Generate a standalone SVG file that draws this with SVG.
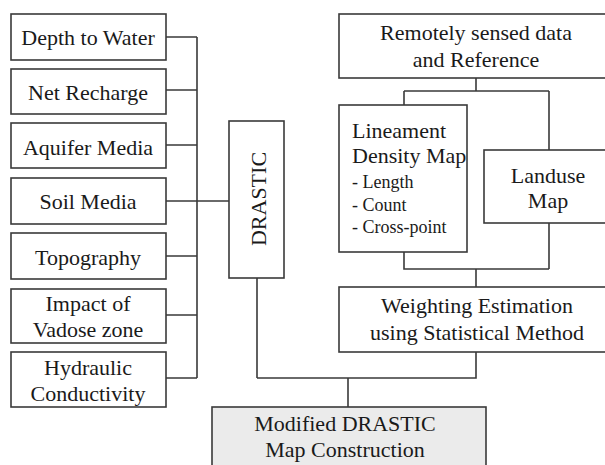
<svg xmlns="http://www.w3.org/2000/svg" width="605" height="465" viewBox="0 0 605 465">
<style>
.box{fill:#fff;stroke:#3a3a3a;stroke-width:1.6}
.gray{fill:#ebebeb}
.c{fill:none;stroke:#3a3a3a;stroke-width:1.6}
</style>
<rect width="605" height="465" fill="#fff"/>
<g id="connectors">
<path class="c" d="M166,37 H197 M166,90 H197 M166,145 H197 M166,201 H229 M166,256 H197 M166,315 H197 M166,378 H197 M197,37 V378"/>
<path class="c" d="M476,78 V91 M404,91 H549 M404,91 V105 M549,91 V150"/>
<path class="c" d="M404,252 V269 H549 M549,223 V269 M476,269 V287"/>
<path class="c" d="M476,352 V378 H257 M257,278 V378 M348,378 V407"/>
</g>
<g font-family="Liberation Serif, Times New Roman, serif" font-size="22" fill="#1a1a1a" text-anchor="middle">
<g id="n1"><rect class="box" x="11" y="14" width="155" height="46"/><text x="88" y="45">Depth to Water</text></g>
<g id="n2"><rect class="box" x="11" y="69" width="155" height="45"/><text x="88" y="100">Net Recharge</text></g>
<g id="n3"><rect class="box" x="11" y="123" width="155" height="45"/><text x="88" y="155">Aquifer Media</text></g>
<g id="n4"><rect class="box" x="11" y="178" width="155" height="46"/><text x="88" y="209">Soil Media</text></g>
<g id="n5"><rect class="box" x="11" y="233" width="155" height="46"/><text x="88" y="265">Topography</text></g>
<g id="n6"><rect class="box" x="11" y="289" width="155" height="54"/><text x="88" y="311">Impact of</text><text x="88" y="337">Vadose zone</text></g>
<g id="n7"><rect class="box" x="11" y="352" width="155" height="55"/><text x="88" y="375">Hydraulic</text><text x="88" y="401">Conductivity</text></g>
<g id="drastic"><rect class="box" x="229" y="121" width="55" height="157"/><text transform="translate(266,199) rotate(-90)">DRASTIC</text></g>
<g id="remote"><rect class="box" x="339" y="14" width="275" height="64"/><text x="476" y="40">Remotely sensed data</text><text x="476" y="67">and Reference</text></g>
<g id="lineament" text-anchor="start"><rect class="box" x="339" y="105" width="128" height="147"/><text x="352" y="138">Lineament</text><text x="352" y="163">Density Map</text><text x="352" y="188" font-size="18">- Length</text><text x="352" y="211" font-size="18">- Count</text><text x="352" y="233" font-size="18">- Cross-point</text></g>
<g id="landuse"><rect class="box" x="484" y="150" width="130" height="73"/><text x="548" y="183">Landuse</text><text x="548" y="208">Map</text></g>
<g id="weighting"><rect class="box" x="339" y="287" width="275" height="65"/><text x="477" y="313">Weighting Estimation</text><text x="477" y="340">using Statistical Method</text></g>
<g id="modified"><rect class="box gray" x="212" y="407" width="274" height="70"/><text x="345" y="431">Modified DRASTIC</text><text x="345" y="457">Map Construction</text></g>
</g>
</svg>
